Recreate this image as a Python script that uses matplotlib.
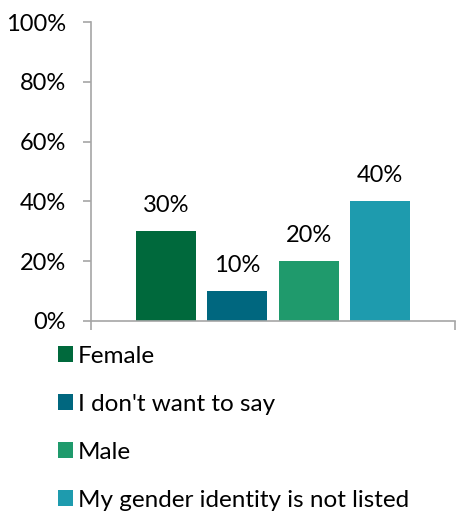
import matplotlib.pyplot as plt
from matplotlib.patches import Patch

# Survey responses by gender (share of respondents)
categories = ["Female", "I don't want to say", "Male", "My gender identity is not listed"]
values = [30, 10, 20, 40]
colors = ["#00693C", "#00677F", "#1F9A6C", "#1E9BAE"]
y_ticks = [0, 20, 40, 60, 80, 100]

plt.rcParams['font.family'] = ['Lato', 'DejaVu Sans']

fig = plt.figure(figsize=(4.6, 5.16), dpi=100)
ax = fig.add_axes([0.198, 0.378, 0.791, 0.579])

positions = list(range(len(values)))
bars = ax.bar(positions, values, width=0.845, color=colors)

# Data labels above each bar
for x, v in zip(positions, values):
    ax.annotate(f"{v}%", xy=(x, v), xytext=(0, 11), textcoords="offset points",
                ha="center", va="bottom", fontsize=17, color="#000000")

ax.set_xlim(-1.056, 4.056)
ax.set_ylim(0, 100)
ax.set_yticks(y_ticks)
ax.set_yticklabels([f"{t}%" for t in y_ticks], fontsize=17)
ax.set_xticks([-1.056, 4.056])
ax.set_xticklabels([])
ax.tick_params(axis='x', direction='out', length=6.5, width=1.2, color="#A6A6A6")
ax.tick_params(axis='y', direction='out', length=6, width=1.2, color="#A6A6A6", pad=12)

for side in ["top", "right"]:
    ax.spines[side].set_visible(False)
for side in ["left", "bottom"]:
    ax.spines[side].set_color("#A6A6A6")
    ax.spines[side].set_linewidth(1.2)

handles = [Patch(facecolor=c, edgecolor="none") for c in colors]
fig.legend(handles, categories, loc="upper left", bbox_to_anchor=(0.106, 0.349),
           frameon=False, fontsize=17.5, handlelength=0.6, handleheight=0.6,
           handletextpad=0.2, labelspacing=1.11, borderaxespad=0)

fig.savefig("out.png", dpi=100)
